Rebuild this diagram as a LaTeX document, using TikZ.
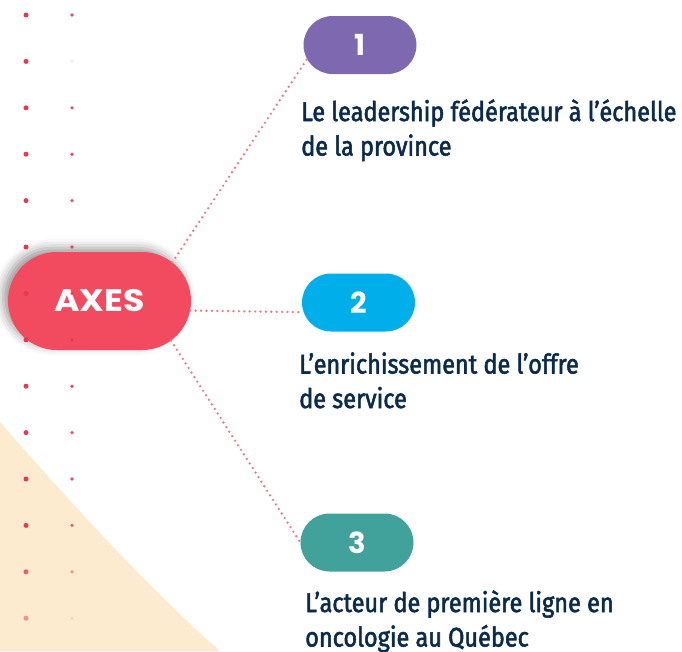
\documentclass[tikz,border=0pt]{standalone}
\usepackage{fontspec}
\usetikzlibrary{shapes.misc,shadows.blur}
\newfontfamily\pillfont{Poppins}
\newfontfamily\axesfont[FakeStretch=1.12]{Poppins}
\newfontfamily\txtfont[FakeStretch=0.87,FakeBold=2]{Fira Sans}
\definecolor{axesred}{HTML}{F24A5F}
\definecolor{purp}{HTML}{7E69B0}
\definecolor{cyanb}{HTML}{00AEEA}
\definecolor{tealc}{HTML}{41A19B}
\definecolor{dotline}{HTML}{F07A82}
\definecolor{navy}{HTML}{0B2B4C}
\definecolor{beige}{HTML}{FDEBD0}
\definecolor{dotred}{HTML}{EC3550}
\tikzset{
  pill/.style={rounded rectangle, inner sep=0pt, minimum width=113pt, minimum height=58pt,
    text=white, font=\pillfont\bfseries\fontsize{29}{30}\selectfont},
  axespill/.style={rounded rectangle, inner sep=0pt, minimum width=183pt, minimum height=98pt,
    fill=axesred, text=white, font=\axesfont\bfseries\fontsize{31}{31}\selectfont,
    blur shadow={shadow xshift=-5pt, shadow yshift=4pt, shadow blur radius=9pt, shadow opacity=40}},
  label/.style={anchor=base west, inner sep=0pt, align=left, text=navy,
    font=\txtfont\fontsize{27}{34.5}\selectfont},
  conn/.style={dotline, line width=2.6pt, line cap=round, dash pattern=on 0pt off 5.4pt},
  bigdot/.style={fill=dotred, draw=none},
}
\begin{document}
\begin{tikzpicture}[x=1pt,y=-1pt]
\useasboundingbox (0,0) rectangle (682,651);
% beige background shape
\fill[beige] (0,422) .. controls (70,502) and (150,590) .. (220,651) -- (0,651) -- cycle;
% central node
\node[axespill] (axes) at (99.5,301) {AXES};
% dot grid
\foreach \k/\la/\ra in {0/1/0.9,1/1/0.12,2/1/0.9,3/1/0.9,4/1/0.9,5/1/0.9,6/1/0.9,7/1/0.9,8/1/0.9,9/1/0.9,10/1/0.9,11/1/0.8,12/0.8/0.5,13/0.5/0.12}{
  \fill[bigdot, opacity=\la] (26,15+46.4*\k) circle (2.5pt);
  \fill[bigdot, opacity=\ra] (72,15+46.4*\k) circle (1.8pt);
}
% numbered nodes
\node[pill, fill=purp] (p1) at (360,45) {1};
\node[pill, fill=cyanb] (p2) at (358.5,302.5) {2};
\node[pill, fill=tealc] (p3) at (357,542.5) {3};
% connectors
\draw[conn] (axes.28) -- (p1.195);
\draw[conn] (axes.-6) -- (p2.190);
\draw[conn] (axes.-29) -- (p3.180);
% labels
\node[label] (t1) at (301,155.5) {Le leadership fédérateur à l’échelle\\de la province};
\node[label] (t2) at (299,408) {L’enrichissement de l’offre\\de service};
\node[label] (t3) at (305,646.5) {L’acteur de première ligne en\\oncologie au Québec};
\end{tikzpicture}
\end{document}
